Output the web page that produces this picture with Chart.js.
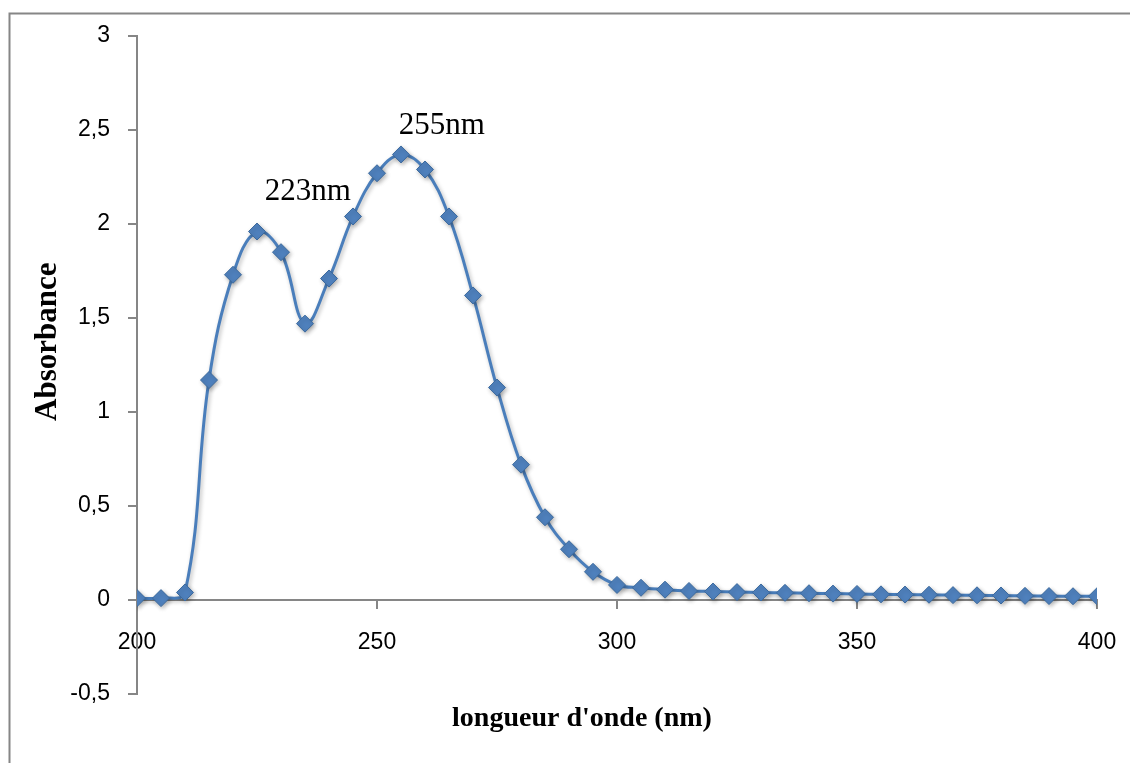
<!DOCTYPE html>
<html>
<head>
<meta charset="utf-8">
<script src="https://cdn.jsdelivr.net/npm/chart.js@4"></script>
<style>
  html, body { margin: 0; padding: 0; background: #fff; }
  #wrap { width: 1130px; height: 763px; }
</style>
</head>
<body>
<div id="wrap"><canvas id="c" width="1130" height="763"></canvas></div>
<script>
// Wavelengths (nm)
const wavelengths = [200,205,210,215,220,225,230,235,240,245,250,255,260,265,270,275,280,285,290,295,300,
  305,310,315,320,325,330,335,340,345,350,355,360,365,370,375,380,385,390,395,400];
// Absorbance values
const absorbance = [0.01,0.01,0.04,1.17,1.73,1.96,1.85,1.47,1.71,2.04,2.27,2.37,2.29,2.04,1.62,1.13,0.72,0.44,0.27,0.15,0.08,
  0.065,0.055,0.048,0.045,0.042,0.04,0.038,0.036,0.034,0.032,0.03,0.029,0.028,0.026,0.025,0.024,0.022,0.021,0.02,0.02];
// Axis ticks
const xTicks = [200,250,300,350,400];
const yTicks = [-0.5,0,0.5,1,1.5,2,2.5,3];
// Peak labels
const peakLabels = [
  { text: '223nm', x: 235.6, y: 2.17 },
  { text: '255nm', x: 263.5, y: 2.52 }
];

const points = wavelengths.map((w, i) => ({ x: w, y: absorbance[i] }));
const NB = '\u00A0';

const frameBorder = {
  id: 'frameBorder',
  beforeDraw(chart) {
    const ctx = chart.ctx;
    ctx.save();
    ctx.fillStyle = '#ffffff';
    ctx.fillRect(0, 0, chart.width, chart.height);
    ctx.strokeStyle = '#868686';
    ctx.lineWidth = 2;
    ctx.strokeRect(9.5, 13.5, 1200, 800);
    ctx.restore();
  }
};

const shadowPlugin = {
  id: 'shadowPlugin',
  beforeDatasetsDraw(chart) {
    const ctx = chart.ctx;
    ctx.save();
    ctx.shadowColor = 'rgba(0,0,0,0.28)';
    ctx.shadowBlur = 4;
    ctx.shadowOffsetX = 1.5;
    ctx.shadowOffsetY = 2;
  },
  afterDatasetsDraw(chart) {
    chart.ctx.restore();
  }
};

const peakLabelPlugin = {
  id: 'peakLabelPlugin',
  afterDatasetsDraw(chart) {
    const ctx = chart.ctx;
    const xs = chart.scales.x, ys = chart.scales.y;
    ctx.save();
    ctx.font = '31px "Liberation Serif", "Times New Roman", serif';
    ctx.fillStyle = '#000';
    ctx.textAlign = 'center';
    ctx.textBaseline = 'middle';
    peakLabels.forEach(p => {
      ctx.fillText(p.text, xs.getPixelForValue(p.x), ys.getPixelForValue(p.y));
    });
    ctx.restore();
  }
};

const fmt = v => String(v).replace('.', ',');

new Chart(document.getElementById('c'), {
  type: 'scatter',
  data: {
    datasets: [{
      data: points,
      showLine: true,
      borderColor: '#4A7EBB',
      borderWidth: 3,
      tension: 0.4,
      pointStyle: 'rectRot',
      pointRadius: 8.5,
      pointHoverRadius: 8.5,
      pointBackgroundColor: '#4F81BD',
      pointBorderColor: '#3C6A9E',
      pointBorderWidth: 1
    }]
  },
  options: {
    responsive: false,
    devicePixelRatio: 1,
    animation: false,
    events: [],
    layout: { padding: { left: 0, top: 36, right: 33, bottom: 69 } },
    plugins: {
      legend: { display: false },
      tooltip: { enabled: false }
    },
    scales: {
      x: {
        type: 'linear',
        position: { y: 0 },
        min: 200, max: 400,
        afterBuildTicks: s => { s.ticks = xTicks.map(v => ({ value: v })); },
        afterFit: s => { s.paddingLeft = 0; s.paddingRight = 0; },
        ticks: {
          callback: fmt,
          color: '#000',
          padding: 21,
          maxRotation: 0,
          font: { family: '"Liberation Sans", Arial, sans-serif', size: 23 }
        },
        grid: { display: true, drawOnChartArea: false, drawTicks: true, tickLength: 8, color: '#868686', lineWidth: 2 },
        border: { display: true, color: '#868686', width: 2 },
        title: {
          display: true,
          text: "longueur d'onde (nm)" + NB.repeat(10),
          color: '#000',
          font: { family: '"Liberation Serif", "Times New Roman", serif', size: 28, weight: 'bold' },
          padding: { top: 24, bottom: 0 }
        }
      },
      y: {
        type: 'linear',
        position: 'left',
        min: -0.5, max: 3,
        afterBuildTicks: s => { s.ticks = yTicks.map(v => ({ value: v })); },
        afterFit: s => { s.width = 137; },
        ticks: {
          callback: fmt,
          color: '#000',
          padding: 18,
          font: { family: '"Liberation Sans", Arial, sans-serif', size: 23 }
        },
        grid: { display: true, drawOnChartArea: false, drawTicks: true, tickLength: 9, color: '#868686', lineWidth: 2 },
        border: { display: true, color: '#868686', width: 2 },
        title: {
          display: true,
          text: NB.repeat(6) + 'Absorbance',
          color: '#000',
          font: { family: '"Liberation Serif", "Times New Roman", serif', size: 31, weight: 'bold' },
          padding: { top: 29, bottom: 0 }
        }
      }
    }
  },
  plugins: [frameBorder, shadowPlugin, peakLabelPlugin]
});
</script>
</body>
</html>
